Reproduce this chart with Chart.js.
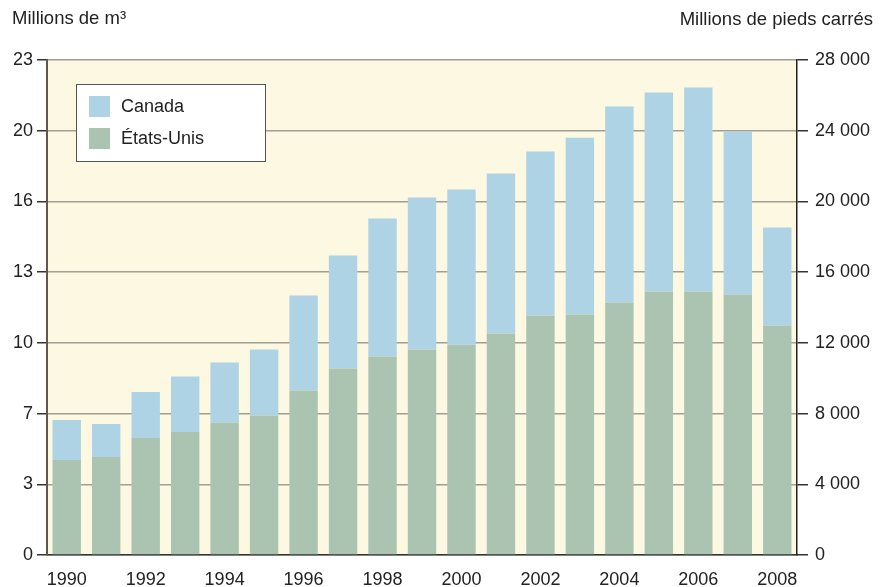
<!DOCTYPE html>
<html>
<head>
<meta charset="utf-8">
<script src="https://cdn.jsdelivr.net/npm/chart.js@4"></script>
<style>
  body { margin: 0; background: #fff; }
  canvas { display: block; }
</style>
</head>
<body>
<canvas id="chart" width="889" height="587"></canvas>
<script>
// Data - millions of square feet
const years = ['1990', '1991', '1992', '1993', '1994', '1995', '1996', '1997', '1998', '1999',
               '2000', '2001', '2002', '2003', '2004', '2005', '2006', '2007', '2008'];
const usValues = [5370, 5540, 6620, 6960, 7490, 7890, 9300, 10550, 11230, 11620,
                  11900, 12530, 13550, 13600, 14280, 14900, 14900, 14730, 12980];
const canadaValues = [2270, 1870, 2600, 3140, 3400, 3730, 5380, 6390, 7800, 8600,
                      8770, 9050, 9270, 10000, 11090, 11260, 11540, 9220, 5540];
const rightTicks = [0, 4000, 8000, 12000, 16000, 20000, 24000, 28000];
const leftTickLabels = ['0', '3', '7', '10', '13', '16', '20', '23'];

const FONT = '"Liberation Sans", Arial, Helvetica, sans-serif';
const TEXT = '#222';

const plotBackground = {
    id: 'plotBackground',
    beforeDraw(chart) {
        const { ctx, chartArea: a } = chart;
        ctx.save();
        ctx.fillStyle = '#fdf8e1';
        ctx.fillRect(a.left, a.top, a.right - a.left, a.bottom - a.top);
        ctx.restore();
    }
};

// titles and the boxed legend inside the plot
const extras = {
    id: 'extras',
    afterDraw(chart) {
        const ctx = chart.ctx;
        ctx.save();
        ctx.font = '18.5px ' + FONT;
        ctx.fillStyle = TEXT;
        ctx.textBaseline = 'middle';
        ctx.textAlign = 'left';
        ctx.fillText('Millions de m³', 12, 19);
        ctx.textAlign = 'right';
        ctx.fillText('Millions de pieds carrés', 873, 20);

        // legend
        ctx.fillStyle = '#fff';
        ctx.fillRect(76, 84, 190, 78);
        ctx.strokeStyle = '#555';
        ctx.lineWidth = 1;
        ctx.strokeRect(76.5, 84.5, 189, 77);
        const items = chart.data.datasets.slice().reverse();
        items.forEach((ds, i) => {
            const y = 106 + i * 32;
            ctx.fillStyle = ds.backgroundColor;
            ctx.fillRect(89, y - 10, 21, 21);
            ctx.fillStyle = TEXT;
            ctx.textAlign = 'left';
            ctx.font = '18px ' + FONT;
            ctx.fillText(ds.label, 121, y + 1);
        });
        ctx.restore();
    }
};

new Chart(document.getElementById('chart').getContext('2d'), {
    type: 'bar',
    data: {
        labels: years,
        datasets: [
            {
                label: 'États-Unis',
                data: usValues,
                backgroundColor: '#abc4b2',
                yAxisID: 'y'
            },
            {
                label: 'Canada',
                data: canadaValues,
                backgroundColor: '#aed3e4',
                yAxisID: 'y'
            }
        ]
    },
    options: {
        responsive: false,
        animation: false,
        layout: { padding: { top: 60, left: 0, right: 0, bottom: 0 } },
        datasets: {
            bar: { categoryPercentage: 1, barPercentage: 0.72 }
        },
        plugins: {
            legend: { display: false },
            tooltip: { enabled: false }
        },
        scales: {
            x: {
                stacked: true,
                grid: { display: false },
                border: { color: '#333', width: 1.5 },
                ticks: {
                    autoSkip: false,
                    maxRotation: 0,
                    padding: 6,
                    color: TEXT,
                    font: { family: FONT, size: 18 },
                    callback: (v, i) => (i % 2 === 0 ? years[i] : '')
                },
                afterFit: s => { s.height = 32; }
            },
            y: {
                position: 'right',
                stacked: true,
                min: 0,
                max: 28000,
                afterBuildTicks: s => { s.ticks = rightTicks.map(v => ({ value: v })); },
                grid: { color: '#a29e94', lineWidth: 1.5, tickLength: 11, tickColor: '#333' },
                border: { color: '#222', width: 1.5 },
                ticks: {
                    padding: 7,
                    color: TEXT,
                    font: { family: FONT, size: 18 },
                    callback: v => String(v).replace(/\B(?=(\d{3})+(?!\d))/g, ' ')
                },
                afterFit: s => { s.width = 92; }
            },
            yL: {
                position: 'left',
                min: 0,
                max: 28000,
                afterBuildTicks: s => { s.ticks = rightTicks.map(v => ({ value: v })); },
                grid: { drawOnChartArea: false, tickLength: 10, tickColor: '#333', lineWidth: 1.5 },
                border: { color: '#5d584c', width: 2 },
                ticks: {
                    padding: 4,
                    color: TEXT,
                    font: { family: FONT, size: 18 },
                    callback: (v, i) => leftTickLabels[i]
                },
                afterFit: s => { s.width = 47; }
            }
        }
    },
    plugins: [plotBackground, extras]
});
</script>
</body>
</html>
